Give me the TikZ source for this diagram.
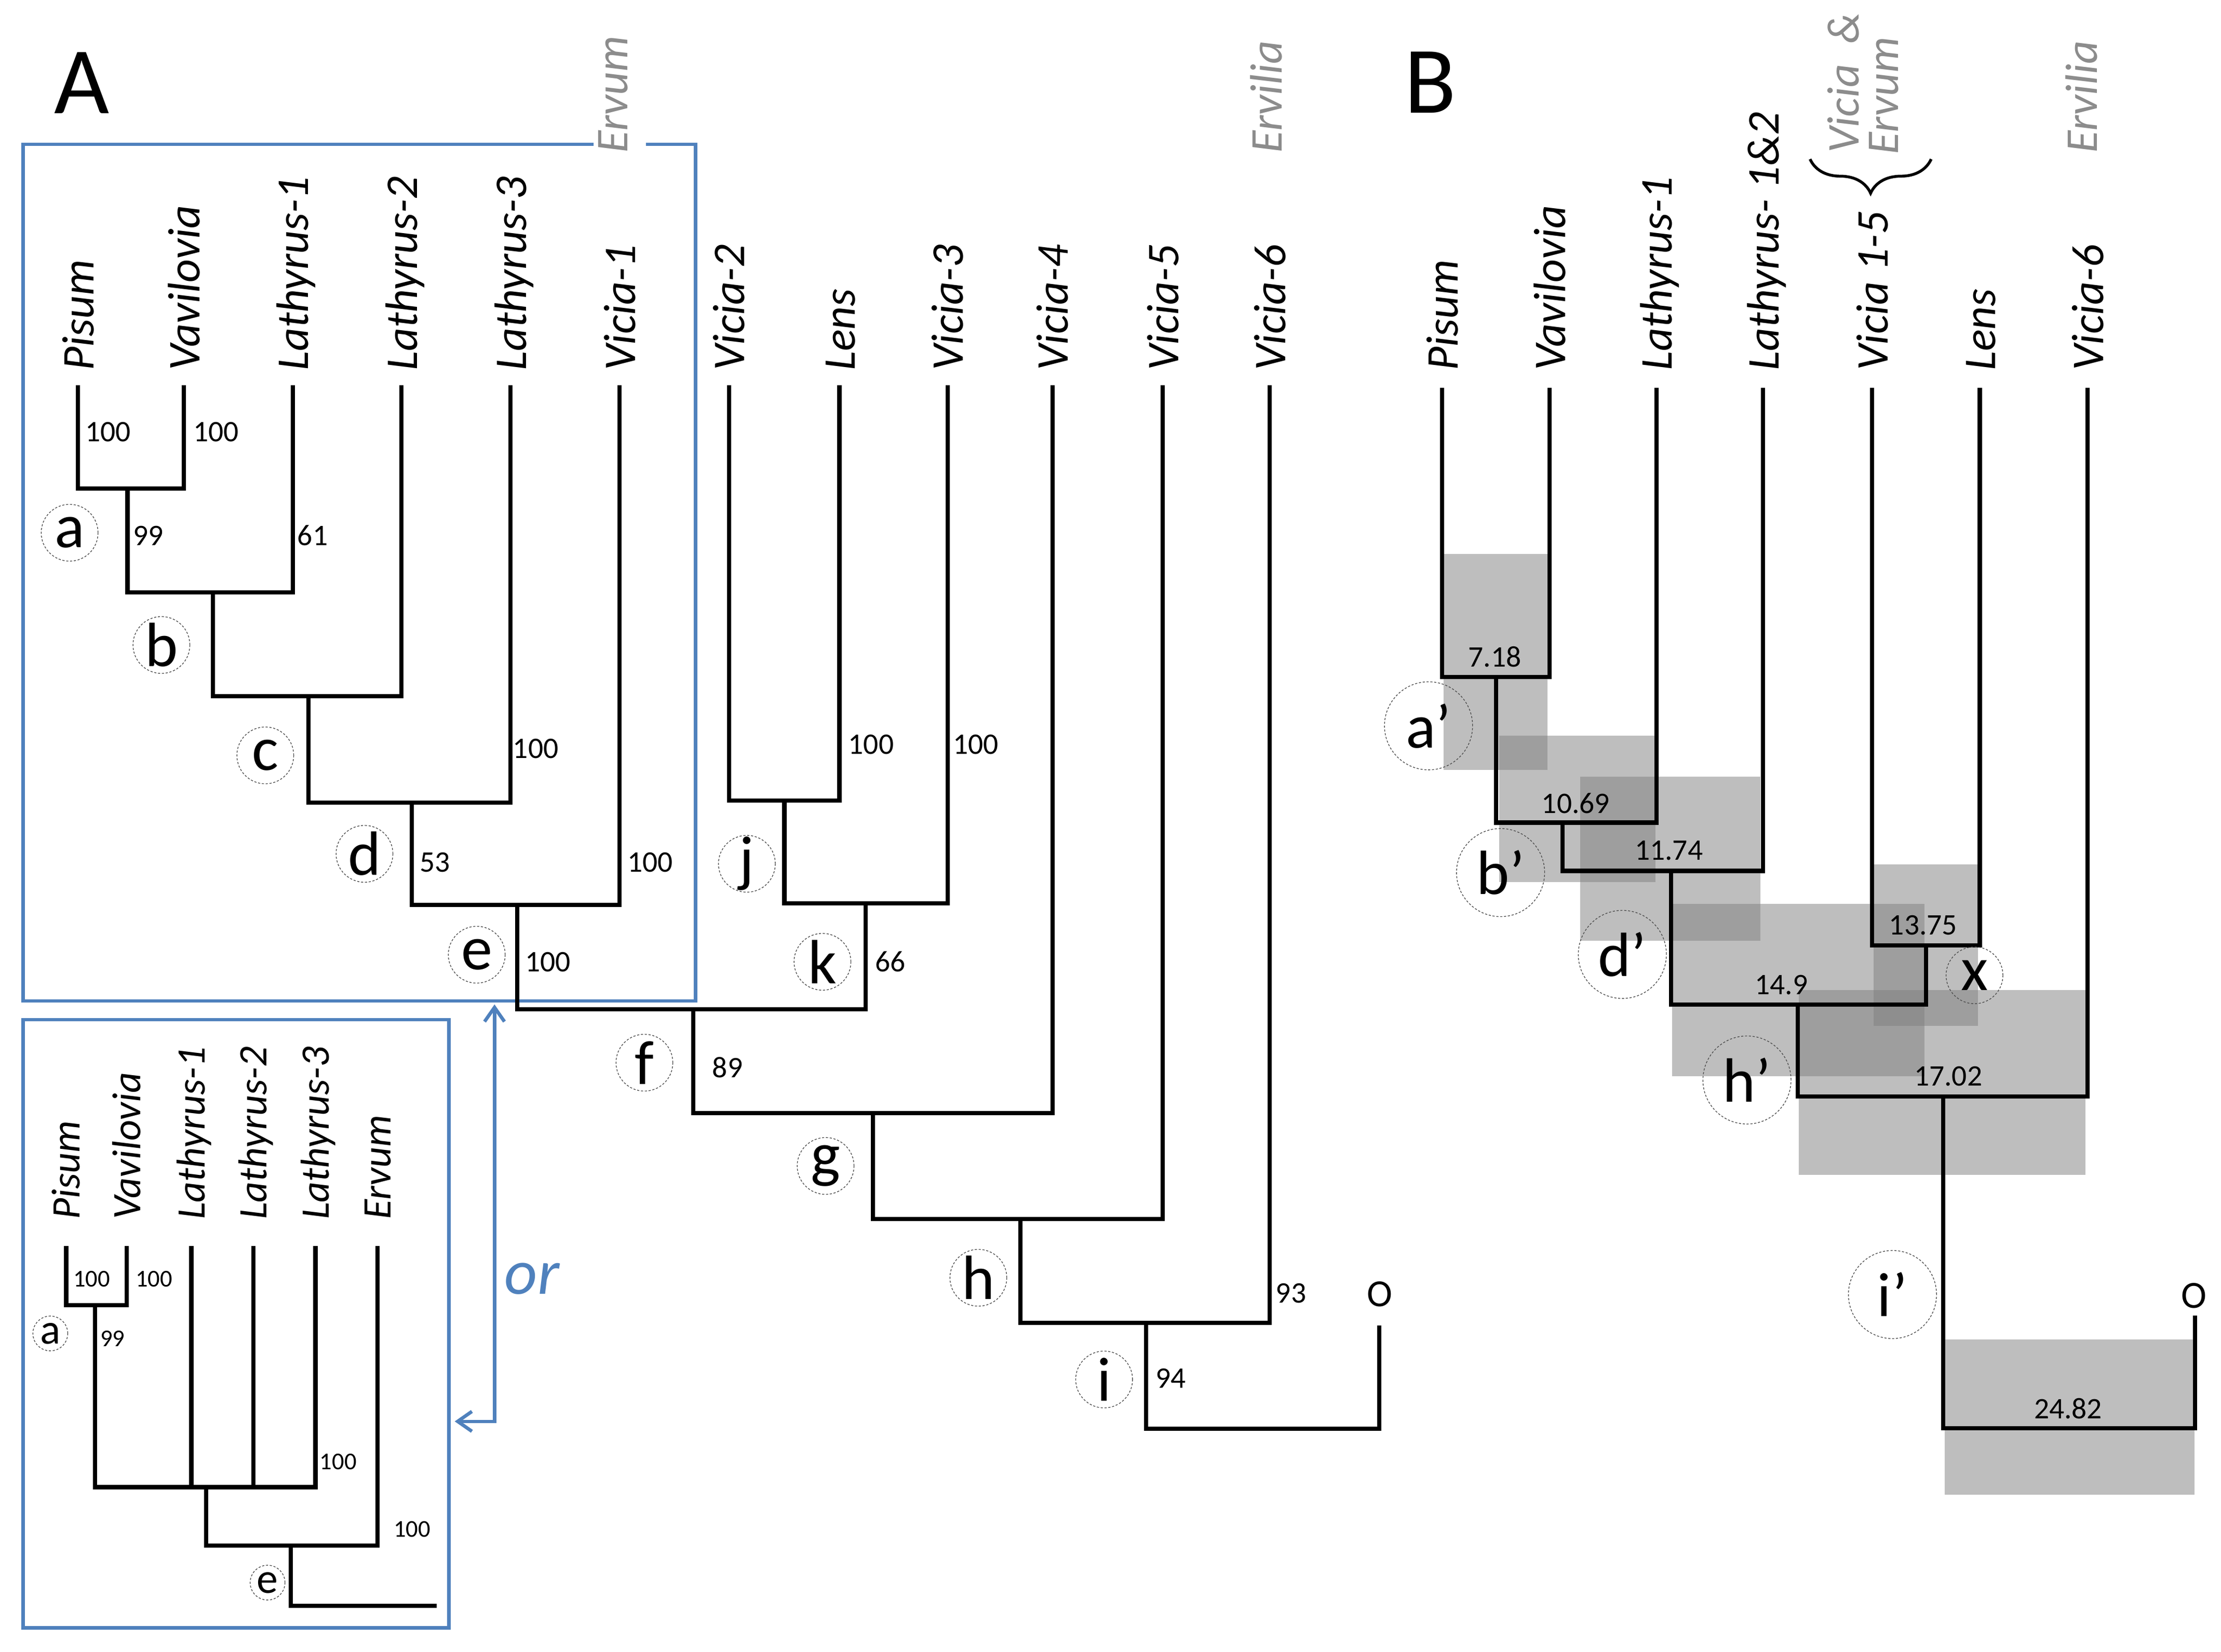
\documentclass[tikz,border=0pt]{standalone}
\usepackage{fontspec}
\setmainfont{Carlito}
\usetikzlibrary{arrows.meta,decorations.pathreplacing}
\definecolor{boxblue}{RGB}{79,129,189}
\definecolor{labgray}{RGB}{140,140,140}
\definecolor{shade}{RGB}{127,127,127}
\begin{document}
\begin{tikzpicture}[x=1pt,y=-1pt,
  br/.style={draw=black, line width=3pt},
  bluebox/.style={draw=boxblue, line width=2.4pt},
  taxon/.style={rotate=90, anchor=base west, inner sep=0pt, font=\fontsize{32}{38}\selectfont\itshape},
  taxsm/.style={taxon, font=\fontsize{28.5}{34}\selectfont\itshape},
  genus/.style={taxon, text=labgray},
  boot/.style={inner sep=0pt, font=\fontsize{21}{25}\selectfont},
  bootsm/.style={inner sep=0pt, font=\fontsize{17}{20}\selectfont},
  circ/.style={circle, draw=black!70, line width=0.5pt, dash pattern=on 1.5pt off 1.2pt, minimum size=40pt, inner sep=0pt},
  circB/.style={circ, minimum size=62pt},
  circS/.style={circ, minimum size=24.5pt},
  ltr/.style={inner sep=0pt, font=\fontsize{44}{50}\selectfont},
  ltrS/.style={inner sep=0pt, font=\fontsize{30}{34}\selectfont},
  ci/.style={fill=shade, fill opacity=0.5, draw=none},
  panel/.style={anchor=base west, inner sep=0pt, font=\fontsize{67}{70}\selectfont},
  outg/.style={inner sep=0pt, font=\fontsize{27}{30}\selectfont}
]
\fill[white] (0,0) rectangle (1563,1162.5);
\useasboundingbox (0,0) rectangle (1563,1162.5);

% ---------------- Panel labels
\node[panel] (pA) at (38,80) {A};
\node[panel] (pB) at (988,79.5) {B};

% ---------------- Blue boxes
\draw[bluebox] (417.7,101.6) -- (16.3,101.6) -- (16.3,704.5) -- (489.6,704.5) -- (489.6,101.6) -- (454.6,101.6);
\draw[bluebox] (16.3,717.7) rectangle (315.9,1145.8);
\coordinate (arrtop) at (348,707);
\coordinate (arrleft) at (320,1000.5);
\draw[bluebox, {Straight Barb[length=10pt,width=14pt]}-{Straight Barb[length=10pt,width=14pt]}] (arrtop) |- (arrleft);
\node[anchor=base west, inner sep=0pt, text=boxblue, font=\fontsize{45}{50}\selectfont\itshape] (or) at (355,911) {or};

% ---------------- Tree A : tips
\coordinate (tP) at (54.8,271);
\coordinate (tV) at (129.5,271);
\coordinate (tL1) at (206,271);
\coordinate (tL2) at (282.6,271);
\coordinate (tL3) at (359.3,271);
\coordinate (tVi1) at (436,271);
\coordinate (tVi2) at (513,271);
\coordinate (tLens) at (590.7,271);
\coordinate (tVi3) at (666.8,271);
\coordinate (tVi4) at (740.6,271);
\coordinate (tVi5) at (818.3,271);
\coordinate (tVi6) at (893.6,271);
\coordinate (tO) at (970.7,933);
% internal nodes
\coordinate (na) at (89.7,344);
\coordinate (nb) at (149.8,417);
\coordinate (nc) at (217,490);
\coordinate (nd) at (289.8,565);
\coordinate (ne) at (363.9,637);
\coordinate (nj) at (552,563.6);
\coordinate (nk) at (609.3,636);
\coordinate (nf) at (488,710.5);
\coordinate (ng) at (614.2,783.6);
\coordinate (nh) at (718.2,858);
\coordinate (ni) at (806.6,931);
\coordinate (nroot) at (806.6,1005.8);

\draw[br] (tP) |- (na) -| (tV);
\draw[br] (na) |- (nb) -| (tL1);
\draw[br] (nb) |- (nc) -| (tL2);
\draw[br] (nc) |- (nd) -| (tL3);
\draw[br] (nd) |- (ne) -| (tVi1);
\draw[br] (tVi2) |- (nj) -| (tLens);
\draw[br] (nj) |- (nk) -| (tVi3);
\draw[br] (ne) |- (nf) -| (nk);
\draw[br] (nf) |- (ng) -| (tVi4);
\draw[br] (ng) |- (nh) -| (tVi5);
\draw[br] (nh) |- (ni) -| (tVi6);
\draw[br] (ni) -- (nroot) -| (tO);

% taxon labels A
\node[taxon] (lP) at (65.8,261) {Pisum};
\node[taxon] (lV) at (140.5,261) {Vavilovia};
\node[taxon] (lL1) at (217,261) {Lathyrus-1};
\node[taxon] (lL2) at (293.6,261) {Lathyrus-2};
\node[taxon] (lL3) at (370.3,261) {Lathyrus-3};
\node[taxon] (lVi1) at (447,261) {Vicia-1};
\node[taxon] (lVi2) at (524,261) {Vicia-2};
\node[taxon] (lLens) at (601.7,261) {Lens};
\node[taxon] (lVi3) at (677.8,261) {Vicia-3};
\node[taxon] (lVi4) at (751.6,261) {Vicia-4};
\node[taxon] (lVi5) at (829.3,261) {Vicia-5};
\node[taxon] (lVi6) at (904.6,261) {Vicia-6};
\node[outg] (lO) at (971,911) {O};
\node[genus] (gErvum) at (441.5,108) {Ervum};
\node[genus] (gErvilia) at (902,108) {Ervilia};

% bootstrap values A
\node[boot] (s1) at (76,304) {100};
\node[boot] (s2) at (152,304) {100};
\node[boot] (s3) at (104.5,377) {99};
\node[boot] (s4) at (220,377) {61};
\node[boot] (s5) at (377,527) {100};
\node[boot] (s6) at (306,607) {53};
\node[boot] (s7) at (457.5,607) {100};
\node[boot] (s8) at (385.5,677) {100};
\node[boot] (s9) at (613,524) {100};
\node[boot] (s10) at (686.7,524) {100};
\node[boot] (s11) at (626.5,677) {66};
\node[boot] (s12) at (512,751.5) {89};
\node[boot] (s13) at (908.5,910.5) {93};
\node[boot] (s14) at (824,970) {94};

% node circles A
\node[circ] (ca) at (49,375) {};      \node[ltr] at (ca) {a};
\node[circ] (cb) at (113.6,454) {};   \node[ltr] at (cb) {b};
\node[circ] (cc) at (186.7,531.7) {}; \node[ltr] at (cc) {c};
\node[circ] (cd) at (256.5,601) {};   \node[ltr] at (cd) {d};
\node[circ] (ce) at (335.5,672) {};   \node[ltr] at (ce) {e};
\node[circ] (cj) at (525.6,608) {};   \node[ltr] at (cj) {j};
\node[circ] (ck) at (578.8,677) {};   \node[ltr] at (ck) {k};
\node[circ] (cf) at (453.5,748) {};   \node[ltr] at (cf) {f};
\node[circ] (cg) at (581,820.7) {};   \node[ltr] at (cg) {g};
\node[circ] (ch) at (688.5,899.4) {}; \node[ltr] at (ch) {h};
\node[circ] (cii) at (777,971) {};    \node[ltr] at (cii) {i};

% ---------------- Inset tree
\coordinate (sP) at (46.6,877);
\coordinate (sV) at (89.3,877);
\coordinate (sL1) at (134.7,877);
\coordinate (sL2) at (178.3,877);
\coordinate (sL3) at (222,877);
\coordinate (sE) at (265.7,877);
\coordinate (sa) at (66.9,918.8);
\coordinate (spoly) at (145,1046.8);
\coordinate (s2n) at (204.7,1088);
\coordinate (send) at (307.2,1130.4);
\draw[br] (sP) |- (sa) -| (sV);
\draw[br] (sa) |- (spoly) -| (sL3);
\draw[br] (sL1) -- (sL1 |- spoly);
\draw[br] (sL2) -- (sL2 |- spoly);
\draw[br] (spoly) |- (s2n) -| (sE);
\draw[br] (s2n) |- (send);
\node[taxsm] (iP) at (56,858.6) {Pisum};
\node[taxsm] (iV) at (98.7,858.6) {Vavilovia};
\node[taxsm] (iL1) at (144.1,858.6) {Lathyrus-1};
\node[taxsm] (iL2) at (187.7,858.6) {Lathyrus-2};
\node[taxsm] (iL3) at (231.4,858.6) {Lathyrus-3};
\node[taxsm] (iE) at (275.1,858.6) {Ervum};
\node[bootsm] (t1) at (64.6,900.4) {100};
\node[bootsm] (t2) at (108.4,900.4) {100};
\node[bootsm] (t3) at (79.2,942.2) {99};
\node[bootsm] (t4) at (238,1028.8) {100};
\node[bootsm] (t5) at (290,1076.6) {100};
\node[circS] (csa) at (35.4,938.6) {}; \node[ltrS] at (csa) {a};
\node[circS] (cse) at (188.3,1114) {}; \node[ltrS] at (cse) {e};

% ---------------- Panel B : confidence boxes
\fill[ci] (1016,389.8) rectangle (1089,541.9);
\fill[ci] (1055,518) rectangle (1165,621);
\fill[ci] (1111.9,546.8) rectangle (1239,662.2);
\fill[ci] (1318.5,608.5) rectangle (1391.8,722);
\fill[ci] (1176.6,636.1) rectangle (1354.2,757.5);
\fill[ci] (1265.7,696.9) rectangle (1467.6,827);
\fill[ci] (1368.4,943) rectangle (1544.2,1052);

% tips B
\coordinate (bP) at (1014.8,273);
\coordinate (bV) at (1090.6,273);
\coordinate (bL1) at (1165.7,273);
\coordinate (bL12) at (1240.8,273);
\coordinate (bV15) at (1317.4,273);
\coordinate (bLens) at (1393.2,273);
\coordinate (bV6) at (1469.1,273);
\coordinate (bO) at (1544.7,926);
\coordinate (ba) at (1052.7,476.5);
\coordinate (bb) at (1099.5,579);
\coordinate (bd) at (1176,613);
\coordinate (bx) at (1355.4,665.4);
\coordinate (bh) at (1265.1,707.2);
\coordinate (b17) at (1367.5,771.8);
\coordinate (broot) at (1367.5,1005.4);
\draw[br] (bP) |- (ba) -| (bV);
\draw[br] (ba) |- (bb) -| (bL1);
\draw[br] (bb) |- (bd) -| (bL12);
\draw[br] (bV15) |- (bx) -| (bLens);
\draw[br] (bd) |- (bh) -| (bx);
\draw[br] (bh) |- (b17) -| (bV6);
\draw[br] (b17) -- (broot) -| (bO);

\node[taxon] (mP) at (1025.8,261) {Pisum};
\node[taxon] (mV) at (1101.6,261) {Vavilovia};
\node[taxon] (mL1) at (1176.7,261) {Lathyrus-1};
\node[taxon] (mL12) at (1251.8,261) {Lathyrus- 1\&2};
\node[taxon] (mV15) at (1328.4,261) {Vicia 1-5};
\node[taxon] (mLens) at (1404.2,261) {Lens};
\node[taxon] (mV6) at (1480.1,261) {Vicia-6};
\node[outg] (mO) at (1544,912) {O};
\node[genus] (gVicia) at (1308,108) {Vicia\ \ \&};
\node[genus] (gErvumB) at (1336,109) {Ervum};
\node[genus] (gErviliaB) at (1476,108) {Ervilia};
\draw[line width=2pt, decorate, decoration={brace, amplitude=24pt}] (1359,112) -- (1273.8,112);

% ages
\node[boot] (a1) at (1052,462.3) {7.18};
\node[boot] (a2) at (1108.9,565.4) {10.69};
\node[boot] (a3) at (1174.4,598.8) {11.74};
\node[boot] (a4) at (1353.4,651.3) {13.75};
\node[boot] (a5) at (1253.6,693.1) {14.9};
\node[boot] (a6) at (1371,757.7) {17.02};
\node[boot] (a7) at (1455.4,991.5) {24.82};

% node circles B
\node[circB] (cba) at (1005.3,510.9) {}; \node[ltr] at (cba) {a’};
\node[circB] (cbb) at (1056,614.2) {};   \node[ltr] at (cbb) {b’};
\node[circB] (cbd) at (1141.7,671.8) {}; \node[ltr] at (cbd) {d’};
\node[circ]  (cbx) at (1389.5,686.5) {}; \node[ltr] at (cbx) {x};
\node[circB] (cbh) at (1229.4,760.2) {}; \node[ltr] at (cbh) {h’};
\node[circB] (cbi) at (1331.8,911.2) {}; \node[ltr] at (cbi) {i’};
\end{tikzpicture}
\end{document}
